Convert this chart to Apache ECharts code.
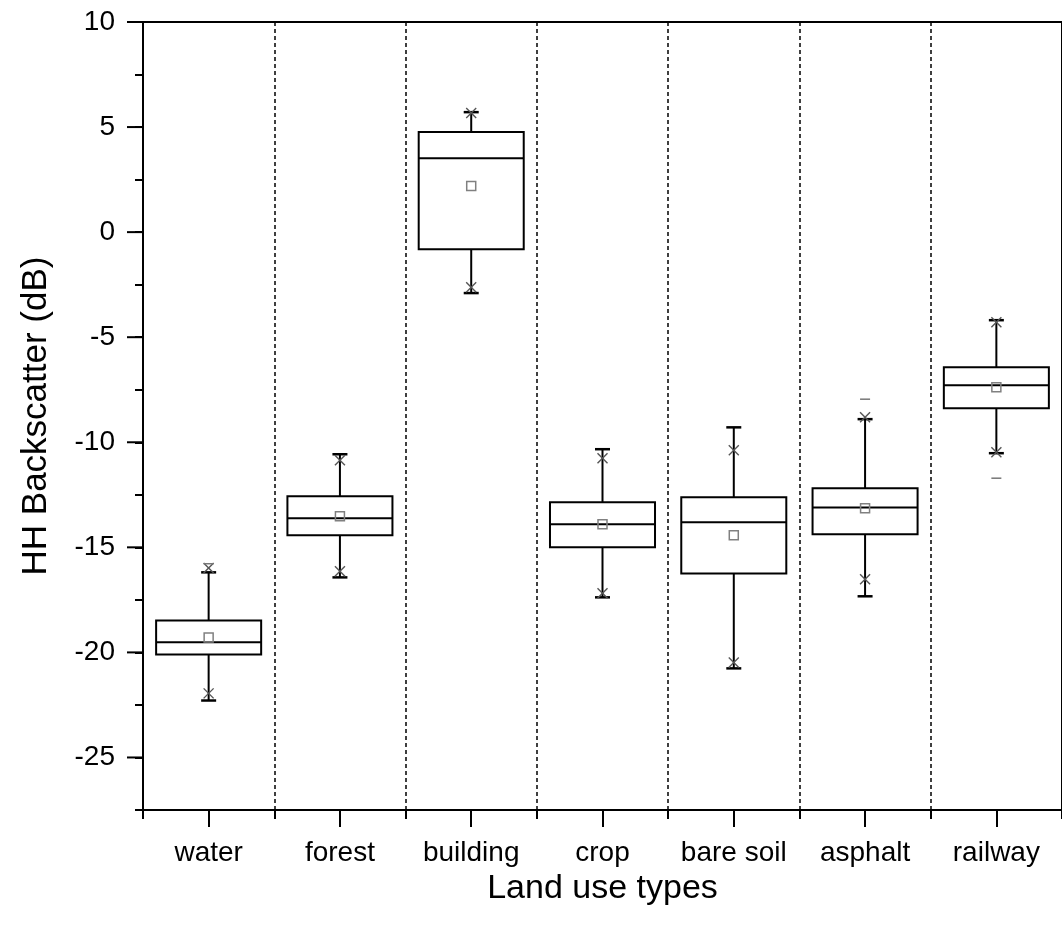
<!DOCTYPE html>
<html>
<head>
<meta charset="utf-8">
<title>HH Backscatter by land use type</title>
<script src="https://cdn.jsdelivr.net/npm/echarts@6/dist/echarts.min.js"></script>
<style>
  html, body { margin: 0; padding: 0; background: #fff; }
  #chart { width: 1062px; height: 930px; }
</style>
</head>
<body>
<div id="chart"></div>
<script>
// Land use classes on the x axis
const categories = ['water', 'forest', 'building', 'crop', 'bare soil', 'asphalt', 'railway'];

// Box statistics (dB)
const whiskerLow  = [-22.29, -16.43, -2.90, -17.38, -20.76, -17.33, -10.52];
const quartile1   = [-20.10, -14.43, -0.81, -15.00, -16.24, -14.38, -8.38];
const medians     = [-19.52, -13.62,  3.52, -13.90, -13.81, -13.10, -7.29];
const quartile3   = [-18.48, -12.57,  4.76, -12.86, -12.62, -12.19, -6.43];
const whiskerHigh = [-16.19, -10.57,  5.71, -10.33,  -9.29,  -8.90, -4.19];
const means       = [-19.29, -13.52,  2.19, -13.90, -14.43, -13.14, -7.38];

// 1st / 99th percentiles (cross markers)
const pct1  = [-21.95, -16.14, -2.62, -17.19, -20.48, -16.52, -10.48];
const pct99 = [-15.98, -10.86,  5.67, -10.76, -10.38,  -8.81,  -4.29];

// Extreme values (dash markers); null where the extreme sits on the whisker cap
const maxDash = [-15.78, null, null, null, null, -7.95, null];
const minDash = [null, null, null, null, null, null, -11.71];

// Y axis range and labelled ticks
const yMin = -27.5;
const yMax = 10;
const yMajorTicks = [-25, -20, -15, -10, -5, 0, 5, 10];

const FONT = "'Liberation Sans', Arial, Helvetica, sans-serif";

const boxData = categories.map((c, i) => [i, whiskerLow[i], quartile1[i], medians[i], quartile3[i], whiskerHigh[i]]);
const meanData = means.map((v, i) => [i, v]);
const crossData = [];
pct1.forEach((v, i) => crossData.push([i, v]));
pct99.forEach((v, i) => crossData.push([i, v]));
const dashData = [];
maxDash.forEach((v, i) => { if (v !== null) dashData.push([i, v]); });
minDash.forEach((v, i) => { if (v !== null) dashData.push([i, v]); });

const chart = echarts.init(document.getElementById('chart'), null, { renderer: 'canvas' });

function renderBox(params, api) {
  const i = api.value(0);
  const pLow = api.coord([i, api.value(1)]);
  const pQ1 = api.coord([i, api.value(2)]);
  const pMed = api.coord([i, api.value(3)]);
  const pQ3 = api.coord([i, api.value(4)]);
  const pHigh = api.coord([i, api.value(5)]);
  const band = api.size([1, 0])[0];
  const halfW = band * 0.4;
  const capHalf = 7.5;
  const x = pMed[0];
  const stroke = { stroke: '#000', lineWidth: 2, fill: null };
  return {
    type: 'group',
    children: [
      { type: 'line', shape: { x1: x, y1: pQ3[1], x2: x, y2: pHigh[1] }, style: stroke },
      { type: 'line', shape: { x1: x, y1: pQ1[1], x2: x, y2: pLow[1] }, style: stroke },
      { type: 'line', shape: { x1: x - capHalf, y1: pHigh[1], x2: x + capHalf, y2: pHigh[1] }, style: { stroke: '#000', lineWidth: 2.5 } },
      { type: 'line', shape: { x1: x - capHalf, y1: pLow[1], x2: x + capHalf, y2: pLow[1] }, style: { stroke: '#000', lineWidth: 2.5 } },
      { type: 'rect', shape: { x: x - halfW, y: pQ3[1], width: halfW * 2, height: pQ1[1] - pQ3[1] }, style: { stroke: '#000', lineWidth: 2, fill: '#fff' } },
      { type: 'line', shape: { x1: x - halfW, y1: pMed[1], x2: x + halfW, y2: pMed[1] }, style: stroke }
    ]
  };
}

function renderMean(params, api) {
  const p = api.coord([api.value(0), api.value(1)]);
  const s = 9;
  return {
    type: 'rect',
    shape: { x: p[0] - s / 2, y: p[1] - s / 2, width: s, height: s },
    style: { stroke: '#808080', lineWidth: 1.5, fill: null }
  };
}

function renderCross(params, api) {
  const p = api.coord([api.value(0), api.value(1)]);
  const h = 5;
  const st = { stroke: '#555', lineWidth: 1.4 };
  return {
    type: 'group',
    children: [
      { type: 'line', shape: { x1: p[0] - h, y1: p[1] - h, x2: p[0] + h, y2: p[1] + h }, style: st },
      { type: 'line', shape: { x1: p[0] - h, y1: p[1] + h, x2: p[0] + h, y2: p[1] - h }, style: st }
    ]
  };
}

function renderDash(params, api) {
  const p = api.coord([api.value(0), api.value(1)]);
  return {
    type: 'line',
    shape: { x1: p[0] - 5, y1: p[1], x2: p[0] + 5, y2: p[1] },
    style: { stroke: '#777', lineWidth: 1.5 }
  };
}

// Long outward ticks at the labelled y values
function renderMajorTick(params, api) {
  const y = api.coord([0, api.value(0)])[1];
  const x0 = params.coordSys.x;
  return {
    type: 'line',
    shape: { x1: x0 - 16, y1: y, x2: x0, y2: y },
    style: { stroke: '#000', lineWidth: 2 }
  };
}

const option = {
  backgroundColor: '#fff',
  animation: false,
  grid: {
    left: 143, right: 0, top: 22, bottom: 120,
    show: true, borderColor: '#000', borderWidth: 2, backgroundColor: 'transparent'
  },
  xAxis: [
    {
      type: 'category',
      data: categories,
      position: 'bottom',
      boundaryGap: true,
      name: 'Land use types',
      nameLocation: 'middle',
      nameGap: 58,
      nameTextStyle: { fontFamily: FONT, fontSize: 34, color: '#000' },
      axisLine: { show: true, onZero: false, lineStyle: { color: '#000', width: 2 } },
      axisTick: { show: true, length: 9, lineStyle: { color: '#000', width: 2 } },
      axisLabel: { fontFamily: FONT, fontSize: 28, color: '#000', margin: 29, interval: 0 },
      splitLine: { show: true, lineStyle: { color: '#000', width: 1.5, type: [4, 3] } }
    },
    {
      // centre ticks under each category
      type: 'category',
      data: categories,
      position: 'bottom',
      boundaryGap: true,
      axisLine: { show: false, onZero: false },
      axisTick: { show: true, alignWithLabel: true, length: 17, lineStyle: { color: '#000', width: 2 } },
      axisLabel: { show: false },
      splitLine: { show: false }
    }
  ],
  yAxis: {
    type: 'value',
    min: yMin,
    max: yMax,
    interval: 2.5,
    name: 'HH Backscatter (dB)',
    nameLocation: 'middle',
    nameGap: 89,
    nameTextStyle: { fontFamily: FONT, fontSize: 35, color: '#000' },
    axisLine: { show: true, onZero: false, lineStyle: { color: '#000', width: 2 } },
    axisTick: { show: true, length: 8, lineStyle: { color: '#000', width: 2 } },
    axisLabel: {
      fontFamily: FONT, fontSize: 28, color: '#000', margin: 28,
      formatter: v => (yMajorTicks.indexOf(v) >= 0 ? String(v) : '')
    },
    splitLine: { show: false }
  },
  series: [
    { type: 'custom', name: 'ticks', xAxisIndex: 0, renderItem: renderMajorTick, data: yMajorTicks.map(v => [v]), encode: { y: 0 }, clip: false, silent: true, z: 5 },
    { type: 'custom', name: 'box', xAxisIndex: 0, renderItem: renderBox, data: boxData, encode: { x: 0, y: [1, 2, 3, 4, 5] }, z: 3 },
    { type: 'custom', name: 'p1-p99', xAxisIndex: 0, renderItem: renderCross, data: crossData, encode: { x: 0, y: 1 }, z: 4 },
    { type: 'custom', name: 'min-max', xAxisIndex: 0, renderItem: renderDash, data: dashData, encode: { x: 0, y: 1 }, z: 4 },
    { type: 'custom', name: 'mean', xAxisIndex: 0, renderItem: renderMean, data: meanData, encode: { x: 0, y: 1 }, z: 4 }
  ]
};

chart.setOption(option);
</script>
</body>
</html>
